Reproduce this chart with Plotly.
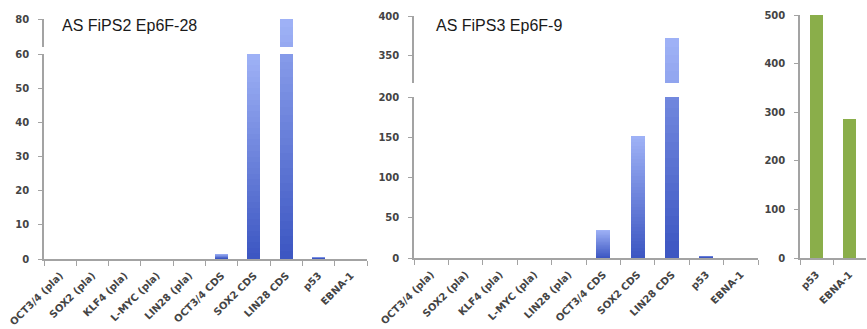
import plotly.graph_objects as go

# ---- data ----
categories = ["OCT3/4 (pla)", "SOX2 (pla)", "KLF4 (pla)", "L-MYC (pla)", "LIN28 (pla)",
              "OCT3/4 CDS", "SOX2 CDS", "LIN28 CDS", "p53", "EBNA-1"]
fips2_values = [0, 0, 0, 0, 0, 1.5, 60, 80, 0.5, 0]
fips3_values = [0, 0, 0, 0, 0, 35, 152, 372, 3, 0]
control_categories = ["p53", "EBNA-1"]
control_values = [500, 286]

fips2_title = "AS FiPS2 Ep6F-28"
fips3_title = "AS FiPS3 Ep6F-9"

W, H = 867, 329


def px_x(x):
    return x / W


def px_y(y):
    return (H - y) / H


LIGHT = (160, 179, 247)
DARK = (60, 86, 194)
GREEN = "#8aae4a"
AXIS = "#a3a3a3"
TICKFONT = dict(family="DejaVu Sans", size=10, color="#444444", weight="bold")
NSTEP = 36

fig = go.Figure()


def gradient_bars(values, xaxis, yaxis, width):
    for i in range(NSTEP, 0, -1):
        k = i / NSTEP
        t = (i - 0.5) / NSTEP
        c = tuple(int(DARK[j] + (LIGHT[j] - DARK[j]) * t) for j in range(3))
        fig.add_trace(go.Bar(
            x=categories, y=[v * k for v in values],
            marker=dict(color="rgb(%d,%d,%d)" % c, line=dict(width=0)),
            width=width, xaxis=xaxis, yaxis=yaxis, showlegend=False,
            hoverinfo="skip" if i < NSTEP else None))


# panel 1 (lower + upper broken part)
gradient_bars(fips2_values, "x", "y", 0.4)
gradient_bars(fips2_values, "x", "y2", 0.4)
# panel 2
gradient_bars(fips3_values, "x2", "y3", 0.41)
gradient_bars(fips3_values, "x2", "y4", 0.41)
# panel 3
fig.add_trace(go.Bar(x=control_categories, y=control_values, width=0.42,
                     marker=dict(color=GREEN, line=dict(width=0)),
                     xaxis="x3", yaxis="y5", showlegend=False))

xcommon = dict(showline=True, linecolor=AXIS, linewidth=1.5, ticks="outside",
               tickson="boundaries", ticklen=5, tickcolor=AXIS, tickwidth=1.2,
               tickangle=-45, tickfont=TICKFONT, ticklabelstandoff=5,
               showgrid=False, zeroline=False, automargin=False, fixedrange=True)
ycommon = dict(showline=True, linecolor=AXIS, linewidth=1.5, ticks="outside",
               ticklen=4, tickcolor=AXIS, tickwidth=1.2, tickfont=TICKFONT,
               ticklabelstandoff=7,
               showgrid=False, zeroline=False, automargin=False, fixedrange=True)

fig.update_layout(
    width=W, height=H, margin=dict(l=0, r=0, t=0, b=0),
    paper_bgcolor="white", plot_bgcolor="rgba(0,0,0,0)",
    barmode="overlay", bargap=0,
    xaxis=dict(xcommon, domain=[px_x(44), px_x(367)], anchor="y"),
    yaxis=dict(ycommon, domain=[px_y(259), px_y(54)], range=[0, 60],
               tickvals=[0, 10, 20, 30, 40, 50, 60], anchor="x"),
    yaxis2=dict(ycommon, domain=[px_y(47), px_y(19)], range=[72, 80],
                tickvals=[80], anchor="x"),
    xaxis2=dict(xcommon, domain=[px_x(414), px_x(758)], anchor="y3"),
    yaxis3=dict(ycommon, domain=[px_y(258), px_y(97)], range=[0, 200],
                tickvals=[0, 50, 100, 150, 200], anchor="x2"),
    yaxis4=dict(ycommon, domain=[px_y(83), px_y(16)], range=[316, 400],
                tickvals=[350, 400], anchor="x2"),
    xaxis3=dict(xcommon, domain=[px_x(800), px_x(866)], anchor="y5"),
    yaxis5=dict(ycommon, domain=[px_y(258), px_y(15)], range=[0, 500],
                tickvals=[0, 100, 200, 300, 400, 500], anchor="x3"),
    annotations=[
        dict(text=fips2_title, x=px_x(60), y=px_y(26), xref="paper", yref="paper",
             xanchor="left", yanchor="middle", showarrow=False,
             font=dict(family="Liberation Sans", size=16, color="#1a1a1a")),
        dict(text=fips3_title, x=px_x(434), y=px_y(26), xref="paper", yref="paper",
             xanchor="left", yanchor="middle", showarrow=False,
             font=dict(family="Liberation Sans", size=16, color="#1a1a1a")),
    ],
)

fig.write_html("out.html", config={"displayModeBar": False},
               post_script="document.body.style.margin='0px';")
